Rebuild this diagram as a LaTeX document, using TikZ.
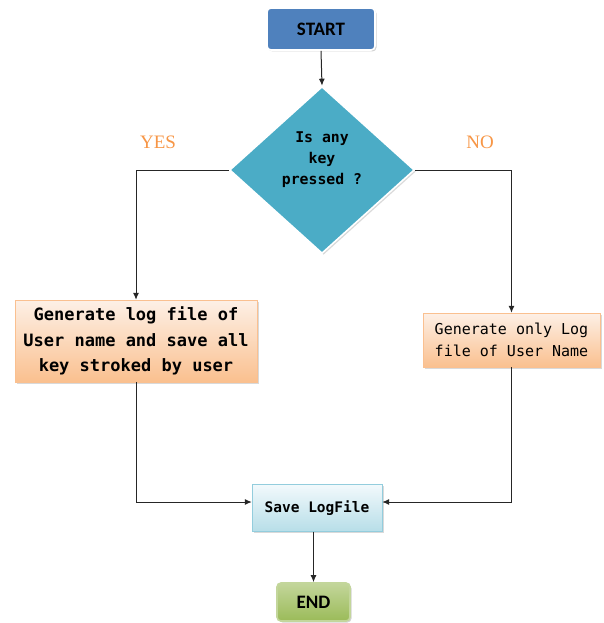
\documentclass[tikz,border=0pt]{standalone}
\usepackage{fontspec}
\usetikzlibrary{shapes.geometric,shadows,calc,arrows.meta}
\newfontfamily\boxfont{DejaVu Sans Mono}
\newfontfamily\headfont{Carlito}
\newfontfamily\answerfont{Liberation Serif}
\definecolor{startblue}{RGB}{79,129,189}
\definecolor{diaaqua}{RGB}{75,172,198}
\definecolor{endgreen}{RGB}{155,187,89}
\definecolor{endlight}{RGB}{195,214,155}
\definecolor{answerorange}{RGB}{247,150,70}
\definecolor{peachtop}{RGB}{253,240,230}
\definecolor{peachbot}{RGB}{250,192,143}
\definecolor{peachline}{RGB}{250,192,144}
\definecolor{icetop}{RGB}{242,249,252}
\definecolor{icebot}{RGB}{183,222,232}
\definecolor{iceline}{RGB}{147,205,221}
\tikzset{
  flowline/.style={draw=black!85, line width=1pt},
  termbox/.style={rectangle, rounded corners=4pt, draw=white, line width=1.6pt,
    drop shadow={opacity=0.35, shadow xshift=1.5pt, shadow yshift=-1.5pt},
    font=\headfont\bfseries\fontsize{19}{22}\selectfont},
  procbox/.style={rectangle, align=center, inner sep=0pt,
    drop shadow={opacity=0.3, shadow xshift=1.5pt, shadow yshift=-1.5pt}},
  answer/.style={text=answerorange, font=\answerfont\fontsize{19}{22}\selectfont}
}
\begin{document}
\begin{tikzpicture}[x=1pt,y=-1pt,>={Latex[length=7pt,width=6pt]}]
            \useasboundingbox (0,0) rectangle (603,623);

            \coordinate (startpos) at (321,29);
            \coordinate (diapos) at (322,170);
            \coordinate (leftpos) at (136,341);
            \coordinate (rightpos) at (511.5,340);
            \coordinate (savepos) at (317,508);
            \coordinate (endpos) at (313.5,602);

            \node [termbox, fill=startblue, minimum width=108pt, minimum height=42pt] (start) at (startpos) {START};
            \node [diamond, draw=white, line width=1.6pt, fill=diaaqua, minimum width=185pt, minimum height=167pt, inner sep=0pt,
                   drop shadow={opacity=0.3, shadow xshift=1.5pt, shadow yshift=-1.5pt}] (dia) at (diapos) {};
            \node [align=center, font=\boxfont\bfseries\fontsize{14.8}{21}\selectfont] (diatext) at ($(diapos)+(0,-10)$) {Is any\\key\\pressed ?};
            \node [procbox, draw=peachline, top color=peachtop, bottom color=peachbot,
                   minimum width=242pt, minimum height=82pt, font=\boxfont\bfseries\fontsize{17}{25.5}\selectfont] (lbox) at (leftpos)
                   {Generate log file of\\User name and save all\\key stroked by user};
            \node [procbox, draw=peachline, top color=peachtop, bottom color=peachbot,
                   minimum width=177pt, minimum height=54pt, font=\boxfont\fontsize{15}{22}\selectfont] (rbox) at (rightpos)
                   {Generate only Log\\file of User Name};
            \node [procbox, draw=iceline, top color=icetop, bottom color=icebot,
                   minimum width=130pt, minimum height=47pt, font=\boxfont\bfseries\fontsize{14.5}{18}\selectfont] (save) at (savepos) {Save LogFile};
            \node [termbox, draw=endlight, top color=endlight, bottom color=endgreen, minimum width=73pt, minimum height=38pt] (end) at (endpos) {END};

            \node [answer] (yes) at (158,142) {YES};
            \node [answer] (no) at (480,142) {NO};

            \draw [->,flowline] (start.south) -- (dia.north);
            \draw [->,flowline] (dia.west) -| (lbox.north);
            \draw [->,flowline] (dia.east) -| (rbox.north);
            \draw [->,flowline] (lbox.south) |- ([yshift=6pt]save.west);
            \draw [->,flowline] (rbox.south) |- ([yshift=6pt]save.east);
            \draw [->,flowline] (end.north |- save.south) -- (end.north);
        \end{tikzpicture}
\end{document}
